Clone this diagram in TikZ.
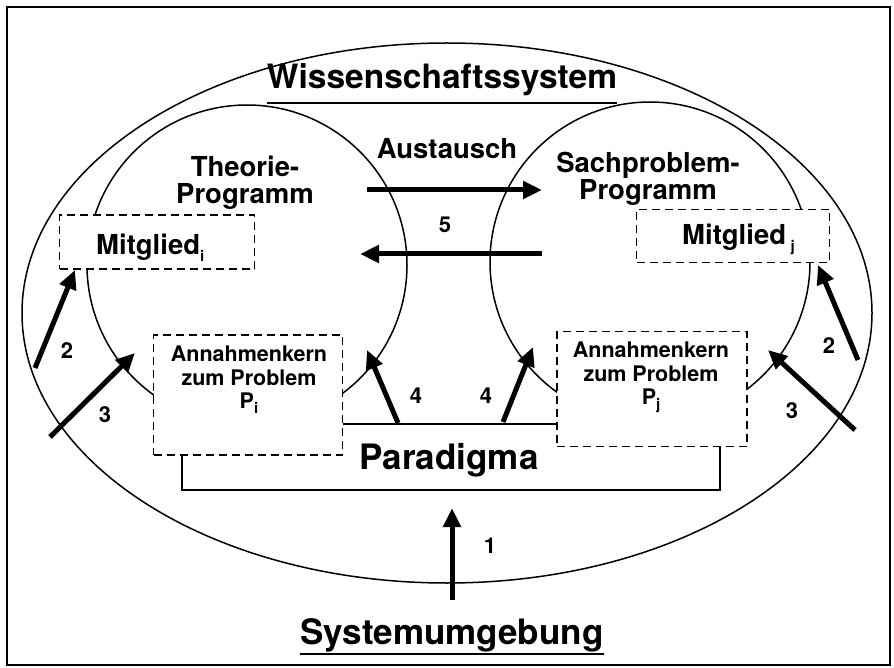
\documentclass[tikz,border=0pt]{standalone}
\usepackage{fontspec}
\setmainfont{TeX Gyre Heros}
\usetikzlibrary{arrows.meta}

\newcommand{\lowidx}[2]{\raisebox{-#1}{\fontsize{15}{15}\selectfont #2}}

\tikzset{
  thinline/.style={line width=1.5pt},
  dbox/.style={draw, line width=1.4pt, dash pattern=on 8pt off 5pt, fill=white, inner sep=0pt},
  bigarrow/.style={line width=5pt, -{Triangle[length=19pt,width=17pt]}},
  bigtext/.style={font=\fontsize{35}{38}\selectfont\bfseries, inner sep=0pt},
  midtext/.style={font=\fontsize{27.5}{27}\selectfont\bfseries, inner sep=0pt, align=center},
  smalltext/.style={font=\fontsize{21.5}{23.5}\selectfont\bfseries, inner sep=0pt, align=center},
  numtext/.style={font=\fontsize{22}{22}\selectfont\bfseries, inner sep=0pt}
}

\begin{document}
\begin{tikzpicture}[x=1pt,y=-1pt]
\useasboundingbox (0,0) rectangle (894,668);
\draw[thinline] (7,7) rectangle (890,665);

% system, programmes
\draw[thinline] (447,313) ellipse [x radius=425, y radius=270];
\draw[thinline] (247,265) circle [radius=160];
\draw[thinline] (650,262) circle [radius=160];

% paradigma
\draw[line width=1.8pt] (182,424) rectangle (720,490);
\node[bigtext, anchor=base] (para) at (449,469) {Paradigma};

% dashed boxes
\node[dbox, minimum width=195pt, minimum height=54pt] (mitgl-i) at (157,242) {};
\node[dbox, minimum width=193pt, minimum height=53pt] (mitgl-j) at (733,236) {};
\node[dbox, minimum width=189pt, minimum height=120pt] (kern-i) at (248,395) {};
\node[dbox, minimum width=190pt, minimum height=115pt] (kern-j) at (652,389) {};

\node[midtext, anchor=base west] (mitgl-i-txt) at (96,255) {Mitglied\lowidx{7pt}{i}};
\node[midtext, anchor=base west] (mitgl-j-txt) at (682,245) {Mitglied\,\lowidx{7pt}{j}};
\node[smalltext, anchor=north] (kern-i-txt) at (249,346) {Annahmenkern\\zum Problem\\P\lowidx{5pt}{i}};
\node[smalltext, anchor=north] (kern-j-txt) at (651,342) {Annahmenkern\\zum Problem\\P\lowidx{5pt}{j}};

% titles
\node[bigtext, font=\fontsize{33.5}{36}\selectfont\bfseries, anchor=base] (wiss) at (442,89) {Wissenschaftssystem};
\draw[line width=2pt] ([yshift=-14pt]wiss.base west) -- ([yshift=-14pt]wiss.base east);
\node[bigtext, anchor=base] (umg) at (452,644) {Systemumgebung};
\draw[line width=2pt] ([yshift=-10pt]umg.base west) -- ([yshift=-10pt]umg.base east);

\node[midtext, anchor=north] (theorie) at (245,156) {Theorie-\\Programm};
\node[midtext, anchor=north] (sach) at (648,152) {Sachproblem-\\Programm};
\node[midtext, anchor=base] (tausch) at (447,159) {Austausch};

% arrows
\coordinate (a2l) at (35,368);   \coordinate (b2l) at (75,270);
\coordinate (a3l) at (50,437);   \coordinate (b3l) at (135,353);
\coordinate (a4l) at (398,423);  \coordinate (b4l) at (367,350);
\coordinate (a4r) at (503,422);  \coordinate (b4r) at (533,347);
\coordinate (a3r) at (855,430);  \coordinate (b3r) at (768,350);
\coordinate (a2r) at (858,360);  \coordinate (b2r) at (818,265);
\coordinate (a1) at (452,600);   \coordinate (b1) at (452,508);
\coordinate (a5) at (367,190);   \coordinate (b5) at (542,190);
\coordinate (c5) at (542,254);   \coordinate (d5) at (360,254);

\draw[bigarrow] (a2l) -- (b2l);
\draw[bigarrow] (a3l) -- (b3l);
\draw[bigarrow] (a4l) -- (b4l);
\draw[bigarrow] (a4r) -- (b4r);
\draw[bigarrow] (a3r) -- (b3r);
\draw[bigarrow] (a2r) -- (b2r);
\draw[bigarrow] (a1) -- (b1);
\draw[bigarrow] (a5) -- (b5);
\draw[bigarrow] (c5) -- (d5);

\node[numtext, anchor=base] (n2l) at (67,358) {2};
\node[numtext, anchor=base] (n3l) at (105,422) {3};
\node[numtext, anchor=base] (n4l) at (416,403) {4};
\node[numtext, anchor=base] (n4r) at (486,403) {4};
\node[numtext, anchor=base] (n3r) at (792,418) {3};
\node[numtext, anchor=base] (n2r) at (829,353) {2};
\node[numtext, anchor=base] (n1) at (490,553) {1};
\node[numtext, anchor=base] (n5) at (445,233) {5};
\end{tikzpicture}
\end{document}
